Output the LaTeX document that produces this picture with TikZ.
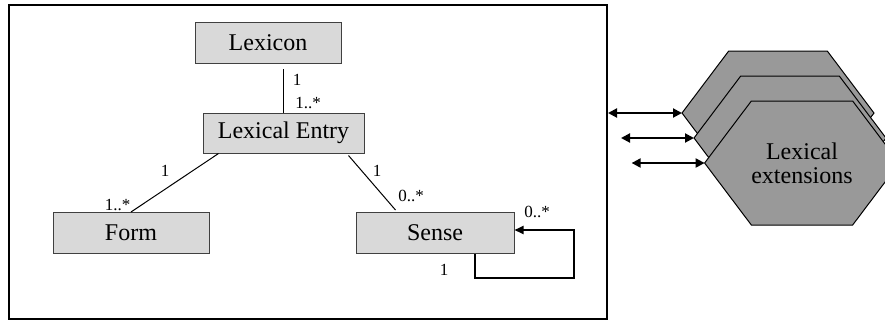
\documentclass[tikz,border=0pt]{standalone}
\usepackage{fontspec}
\setmainfont{Liberation Serif}
\usetikzlibrary{shapes.symbols, arrows.meta, positioning, calc}

\begin{document}
\begin{tikzpicture}[
    x=0.5pt, y=-0.5pt,
    box/.style={rectangle, draw=black!75, fill=black!15, line width=0.5pt, minimum width=78pt, minimum height=20.5pt, font=\fontsize{12}{14}\selectfont},
    mult/.style={inner sep=0pt, font=\fontsize{8.5}{10}\selectfont},
    link/.style={line width=0.5pt},
    hexa/.style={signal, signal to=west and east, signal pointer angle=106, draw, fill=black!40, line width=0.5pt, outer sep=0pt, inner xsep=0pt, minimum width=96pt, minimum height=62pt, font=\fontsize{12}{12}\selectfont},
    biarrow/.style={{Triangle[length=4.5pt,width=4.5pt]}-{Triangle[length=4.5pt,width=4.5pt]}, line width=1pt}
]
\useasboundingbox (0,0) rectangle (885,323);

% model frame
\node[draw, line width=1pt, minimum width=299pt, minimum height=157pt] (model) at (308,162) {};

% classes
\node[box, minimum width=73pt] (lexicon) at (268,42.5) {Lexicon};
\node[box, minimum width=80.5pt, minimum height=20pt] (entry) at (283.5,133) {Lexical Entry};
\node[box] (form) at (131,233) {Form};
\node[box, minimum width=79pt, right=73pt of form] (sense) {Sense};

% associations
\draw[link] (entry.north) -- ($(entry.north |- lexicon.south)+(0,5)$);
\draw[link] ($(entry.south west)+(16,0)$) -- (form.north);
\draw[link] ($(entry.south east)+(-16,2)$) -- ($(sense.north west)+(40,-2)$);
\draw[line width=1pt, -{Triangle[length=4.5pt,width=4pt]}] ($(sense.south east)+(-40,0)$) |- ($(sense.south east)+(59,24)$) |- ($(sense.east)+(0,-3)$);

% multiplicities
\node[mult] (m1) at (297,80) {1};
\node[mult] (m2) at (308,103) {1..*};
\node[mult] (m3) at (165,171) {1};
\node[mult] (m4) at (117.5,205) {1..*};
\node[mult] (m5) at (377,171) {1};
\node[mult] (m6) at (411,196) {0..*};
\node[mult] (m7) at (537,212) {0..*};
\node[mult] (m8) at (444,270) {1};

% extensions
\node[hexa] (ext1) at (778,113) {};
\node[hexa] (ext2) at (790,138) {};
\node[hexa, align=center] (ext3) at (802,163) {Lexical\\extensions};

\coordinate (p2) at ($(ext2.west)+(-73,0)$);
\coordinate (p3) at ($(ext3.west)+(-73,0)$);
\draw[biarrow] (model.east |- ext1.west) -- (ext1.west);
\draw[biarrow] (p2) -- (ext2.west);
\draw[biarrow] (p3) -- (ext3.west);
\end{tikzpicture}
\end{document}
